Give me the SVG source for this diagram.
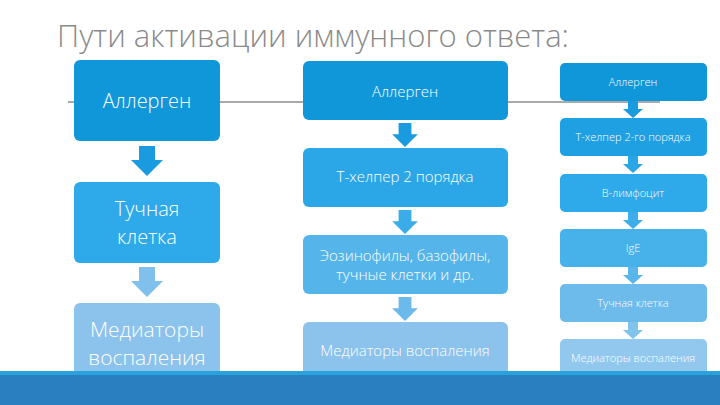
<svg xmlns="http://www.w3.org/2000/svg" width="720" height="405" viewBox="0 0 720 405">
<style>
.t{font-family:"Open Sans","DejaVu Sans",sans-serif;fill:#fff;text-anchor:middle;font-weight:300}
</style>
<defs>
<polygon id="ar" points="-8,0 8,0 8,14 16,14 0,30 -16,14 -8,14"/>
<polygon id="as" points="-5,0 5,0 5,8 10,8 0,17 -10,8 -5,8"/>
</defs>
<rect width="720" height="405" fill="#fff"/>
<text x="57" y="47" font-family="Open Sans, DejaVu Sans, sans-serif" font-size="31" font-weight="300" fill="#8a8a8a">Пути активации иммунного ответа:</text>
<g id="connectors">
<line x1="68" y1="102" x2="660" y2="102" stroke="#555" stroke-width="1"/>
<use href="#ar" x="147" y="146" fill="#1a9be0"/>
<use href="#ar" x="147" y="267" fill="#7fc0ec"/>
<use href="#ar" transform="translate(405,123) scale(0.8)" fill="#1a9be0"/>
<use href="#ar" transform="translate(405,210) scale(0.8)" fill="#3aacea"/>
<use href="#ar" transform="translate(405,297) scale(0.8)" fill="#6cb9ec"/>
<use href="#as" x="633" y="101" fill="#1a9be0"/>
<use href="#as" x="633" y="156" fill="#2aa5e6"/>
<use href="#as" x="633" y="212" fill="#3daeea"/>
<use href="#as" x="633" y="267" fill="#5ab6ea"/>
<use href="#as" x="633" y="322" fill="#80c3ec"/>
</g>
<g id="l1"><rect x="74" y="60" width="146" height="81" rx="6" fill="#0f97d9"/><text class="t" x="147" y="108" font-size="20">Аллерген</text></g>
<g id="l2"><rect x="74" y="182" width="146" height="81" rx="6" fill="#2ea9e9"/><text class="t" x="147" y="216" font-size="20">Тучная</text><text class="t" x="147" y="244" font-size="20">клетка</text></g>
<g id="l3"><rect x="74" y="303" width="146" height="81" rx="6" fill="#8cc3ec"/><text class="t" x="147" y="337" font-size="21">Медиаторы</text><text class="t" x="147" y="365" font-size="21">воспаления</text></g>
<g id="m1"><rect x="303" y="61" width="205" height="59" rx="6" fill="#0f97d9"/><text class="t" x="405" y="97" font-size="15">Аллерген</text></g>
<g id="m2"><rect x="303" y="148" width="205" height="59" rx="6" fill="#2ba7e8"/><text class="t" x="405" y="182" font-size="15">Т-хелпер 2 порядка</text></g>
<g id="m3"><rect x="303" y="235" width="205" height="59" rx="6" fill="#55b5ea"/><text class="t" x="405" y="261" font-size="15">Эозинофилы, базофилы,</text><text class="t" x="405" y="280" font-size="15">тучные клетки и др.</text></g>
<g id="m4"><rect x="303" y="322" width="205" height="59" rx="6" fill="#8cc3ec"/><text class="t" x="405" y="356" font-size="15">Медиаторы воспаления</text></g>
<g id="r1"><rect x="560" y="63" width="147" height="38" rx="5" fill="#0f97d9"/><text class="t" x="633" y="86" font-size="11">Аллерген</text></g>
<g id="r2"><rect x="560" y="118" width="147" height="38" rx="5" fill="#1ea0e3"/><text class="t" x="633" y="141" font-size="11">Т-хелпер 2-го порядка</text></g>
<g id="r3"><rect x="560" y="174" width="147" height="38" rx="5" fill="#2ea9e9"/><text class="t" x="633" y="197" font-size="11">В-лимфоцит</text></g>
<g id="r4"><rect x="560" y="229" width="147" height="38" rx="5" fill="#47b1ea"/><text class="t" x="633" y="252" font-size="11">IgE</text></g>
<g id="r5"><rect x="560" y="284" width="147" height="38" rx="5" fill="#6cbbeb"/><text class="t" x="633" y="307" font-size="11">Тучная клетка</text></g>
<g id="r6"><rect x="560" y="339" width="147" height="38" rx="5" fill="#93c8ee"/><text class="t" x="633" y="362" font-size="11">Медиаторы воспаления</text></g>
<rect x="0" y="371" width="720" height="4" fill="#29a3dc"/>
<rect x="0" y="375" width="720" height="30" fill="#2a7fc0"/>
</svg>
